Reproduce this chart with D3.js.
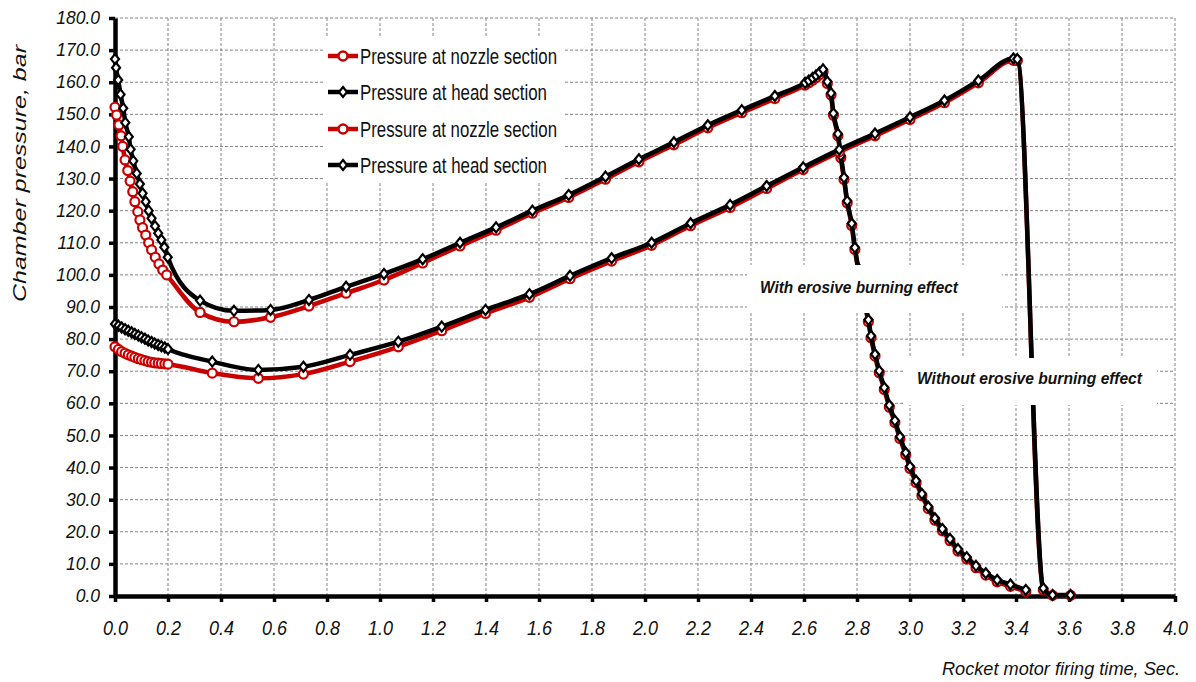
<!DOCTYPE html>
<html><head><meta charset="utf-8">
<script src="https://cdn.jsdelivr.net/npm/d3@7"></script>
<style>body{margin:0;background:#fff;} svg{display:block;}</style>
</head><body>
<svg id="chart" width="1196" height="682"></svg>
<script>
// ---------- DATA ----------
const xTicks = [0,0.2,0.4,0.6,0.8,1.0,1.2,1.4,1.6,1.8,2.0,2.2,2.4,2.6,2.8,3.0,3.2,3.4,3.6,3.8,4.0];
const yTicks = [0,10,20,30,40,50,60,70,80,90,100,110,120,130,140,150,160,170,180];

// With erosive burning effect
const tErosiveHeadStart = [0,0.004,0.012,0.021,0.031,0.039,0.052,0.059,0.069,0.082,0.094,0.104,0.116,0.127,0.138,0.151,0.163,0.175,0.186,0.199];
const tErosiveNozzleStart = [0,0.006,0.015,0.023,0.029,0.038,0.048,0.057,0.067,0.075,0.086,0.094,0.104,0.116,0.127,0.138,0.152,0.166,0.18,0.195];
const tErosiveTail = [0.321,0.449,0.587,0.732,0.872,1.015,1.161,1.302,1.438,1.575,1.712,1.851,1.977,2.109,2.237,2.365,2.49,
  2.604,2.618,2.632,2.645,2.658,2.672,
  2.688,2.702,2.711,2.728,2.739,2.751,2.763,2.78,2.792,2.805,2.817,2.83,2.843,2.853,2.868,2.884,2.903,2.922,2.943,2.962,2.984,3.0,3.023,3.045,3.069,3.094,3.122,3.151,3.181,3.214,3.249,3.286,3.329,3.379,3.437];
const pErosiveHead = [167.2,164.5,160.7,156.2,151.9,147.4,143.0,139.1,135.5,131.6,128.3,125.4,122.8,120.0,117.6,115.2,113.0,110.9,108.6,105.5,
  92.0,88.8,89.1,92.2,96.3,100.3,104.9,110.0,114.8,120.0,124.9,130.6,136.0,141.3,146.6,151.3,155.7,
  159.8,160.5,161.3,162.1,163.0,164.0,
  160.2,156.6,150.3,143.9,137.1,130.3,123.0,116.0,108.5,102.0,96.5,91.0,86.0,81.0,75.3,70.1,64.9,59.4,54.6,49.6,44.6,40.3,35.9,31.8,27.8,24.2,20.9,17.8,14.6,12.1,9.4,7.1,5.0,3.6,1.9];
const pErosiveNozzle = [152.2,149.8,146.7,143.3,140.0,135.8,132.5,129.2,125.9,122.8,119.7,117.1,114.7,112.4,110.0,107.8,105.5,103.4,101.5,100.0,
  88.3,85.4,86.8,90.3,94.3,98.4,103.7,109.0,113.9,119.2,124.1,129.8,135.2,140.5,145.8,150.5,154.9,
  159.1,159.8,160.6,161.4,162.3,163.3,
  159.6,156.0,149.7,143.3,136.5,129.7,122.4,115.4,107.9,101.4,95.9,90.4,85.4,80.4,74.7,69.5,64.3,58.8,54.0,49.0,44.0,39.7,35.3,31.2,27.2,23.6,20.3,17.2,14.0,11.5,8.8,6.5,4.4,3.0,1.4];

// Without erosive burning effect
const tPlain = [0,0.013,0.025,0.038,0.05,0.063,0.075,0.088,0.1,0.113,0.125,0.138,0.15,0.163,0.175,0.188,0.2,
  0.367,0.541,0.711,0.887,1.069,1.233,1.398,1.564,1.717,1.874,2.025,2.172,2.321,2.459,2.597,2.733,2.868,3.0,3.13,3.258,3.39,3.405,3.503,3.538,3.606];
const pPlainHead = [84.7,84.2,83.6,83.1,82.6,82.1,81.6,81.1,80.6,80.1,79.6,79.1,78.6,78.2,77.8,77.4,76.9,
  73.0,70.4,71.4,75.1,79.2,83.9,89.1,94.0,99.7,105.2,110.0,116.1,121.8,127.7,133.5,139.0,144.0,149.1,154.3,160.5,167.4,167.2,2.4,0.3,0.3];
const pPlainNozzle = [77.6,76.8,76.1,75.6,75.1,74.7,74.3,73.9,73.6,73.3,73.0,72.8,72.6,72.5,72.4,72.3,72.2,
  69.4,67.8,69.1,73.0,77.6,82.6,88.0,93.0,98.8,104.3,109.2,115.3,121.0,126.9,132.8,138.3,143.3,148.4,153.6,159.8,166.8,166.7,1.9,0.2,0.2];

const legendLabels = ["Pressure at nozzle section","Pressure at head section","Pressure at nozzle section","Pressure at head section"];
const xTitle = "Rocket motor firing time, Sec.";
const yTitle = "Chamber pressure,  bar";
const note1 = "With erosive burning effect";
const note2 = "Without erosive burning effect";

// ---------- CHART ----------
const RED = "#c80000";
const svg = d3.select("#chart");
const X0 = 115, X1 = 1175, Y0 = 596, Y1 = 18;
const x = d3.scaleLinear().domain([0,4]).range([X0,X1]);
const y = d3.scaleLinear().domain([0,180]).range([Y0,Y1]);
const FONT = "'Liberation Sans', Arial, sans-serif";

// grid
const grid = svg.append("g");
grid.selectAll("line.v").data(xTicks.slice(1)).join("line")
  .attr("x1",d=>x(d)).attr("x2",d=>x(d)).attr("y1",Y1).attr("y2",Y0)
  .attr("stroke","#858585").attr("stroke-width",1).attr("stroke-dasharray","3,2");
grid.selectAll("line.h").data(yTicks.slice(1)).join("line")
  .attr("x1",X0).attr("x2",X1).attr("y1",d=>y(d)).attr("y2",d=>y(d))
  .attr("stroke","#858585").attr("stroke-width",1).attr("stroke-dasharray","3,2");

// axes
const ya = svg.append("g").attr("transform",`translate(${X0},0)`)
  .call(d3.axisLeft(y).tickValues(yTicks).tickFormat(d=>d.toFixed(1)).tickSize(6).tickSizeOuter(0).tickPadding(9));
const xa = svg.append("g").attr("transform",`translate(0,${Y0})`)
  .call(d3.axisBottom(x).tickValues(xTicks).tickFormat(d=>d.toFixed(1)).tickSize(6).tickSizeOuter(0));
[ya,xa].forEach(g=>{
  g.select(".domain").attr("stroke","#000").attr("stroke-width",4.5);
  g.selectAll(".tick line").attr("stroke","#000").attr("stroke-width",3.5);
});
ya.selectAll(".tick text").attr("font-family",FONT).attr("font-style","italic").attr("font-size",17.5).attr("fill","#111").attr("x",-15);
xa.selectAll(".tick text").attr("font-family",FONT).attr("font-style","italic").attr("font-size",21).attr("fill","#111")
  .attr("y",39).attr("dy",0).attr("textLength",25).attr("lengthAdjust","spacingAndGlyphs");

// series
const line = d3.line().x(d=>x(d[0])).y(d=>y(d[1])).curve(d3.curveMonotoneX);
const diamond = "M0,-5L4,0L0,5L-4,0Z";
const series = [
  {t: tErosiveNozzleStart.concat(tErosiveTail), p: pErosiveNozzle, color: RED, marker: "circle"},
  {t: tErosiveHeadStart.concat(tErosiveTail), p: pErosiveHead, color: "#000", marker: "diamond"},
  {t: tPlain, p: pPlainNozzle, color: RED, marker: "circle"},
  {t: tPlain, p: pPlainHead, color: "#000", marker: "diamond"}
];
series.forEach(s=>{
  const pts = s.t.map((t,i)=>[t,s.p[i]]);
  const g = svg.append("g");
  g.append("path").datum(pts).attr("d",line).attr("fill","none").attr("stroke",s.color).attr("stroke-width",4.5).attr("stroke-linejoin","round");
  if (s.marker === "circle") {
    g.selectAll("circle").data(pts).join("circle").attr("cx",d=>x(d[0])).attr("cy",d=>y(d[1])).attr("r",4.5)
      .attr("fill","#fff").attr("stroke",s.color).attr("stroke-width",2.2);
  } else {
    g.selectAll("path.m").data(pts).join("path").attr("class","m").attr("d",diamond)
      .attr("transform",d=>`translate(${x(d[0])},${y(d[1])})`)
      .attr("fill","#fff").attr("stroke",s.color).attr("stroke-width",2.2);
  }
});

// legend
const lg = svg.append("g");
lg.append("rect").attr("x",324).attr("y",38).attr("width",239).attr("height",143).attr("fill","#fff");
const rowsY = [56,92,129,165];
const textLens = [197,187,197,187];
legendLabels.forEach((lab,i)=>{
  const s = series[i % 2 === 0 ? 0 : 1];
  const yy = rowsY[i];
  lg.append("line").attr("x1",328).attr("x2",358).attr("y1",yy).attr("y2",yy).attr("stroke",s.color).attr("stroke-width",4.5);
  if (s.marker === "circle") lg.append("circle").attr("cx",343).attr("cy",yy).attr("r",4.5).attr("fill","#fff").attr("stroke",s.color).attr("stroke-width",2.5);
  else lg.append("path").attr("d",diamond).attr("transform",`translate(343,${yy})`).attr("fill","#fff").attr("stroke","#000").attr("stroke-width",2.2);
  lg.append("text").attr("x",360).attr("y",yy+8).attr("font-family",FONT).attr("font-size",22).attr("fill","#111")
    .attr("textLength",textLens[i]).attr("lengthAdjust","spacingAndGlyphs").text(lab);
});

// annotations
svg.append("rect").attr("x",747).attr("y",265).attr("width",255).attr("height",48).attr("fill","#fff");
svg.append("text").attr("x",760).attr("y",293).attr("font-family",FONT).attr("font-size",17).attr("font-weight","bold").attr("font-style","italic")
  .attr("fill","#111").attr("textLength",198).attr("lengthAdjust","spacingAndGlyphs").text(note1);
svg.append("rect").attr("x",903).attr("y",358).attr("width",254).attr("height",47).attr("fill","#fff");
svg.append("text").attr("x",917).attr("y",384).attr("font-family",FONT).attr("font-size",17).attr("font-weight","bold").attr("font-style","italic")
  .attr("fill","#111").attr("textLength",225).attr("lengthAdjust","spacingAndGlyphs").text(note2);

// axis titles
svg.append("text").attr("x",942).attr("y",675).attr("font-family",FONT).attr("font-size",18).attr("font-style","italic").attr("fill","#111")
  .attr("textLength",238).attr("lengthAdjust","spacingAndGlyphs").text(xTitle);
svg.append("text").attr("transform","translate(26,173.5) rotate(-90)").attr("text-anchor","middle")
  .attr("font-family",FONT).attr("font-size",18).attr("font-style","italic").attr("fill","#111")
  .attr("textLength",257).attr("lengthAdjust","spacingAndGlyphs").text(yTitle);
</script>
</body></html>
